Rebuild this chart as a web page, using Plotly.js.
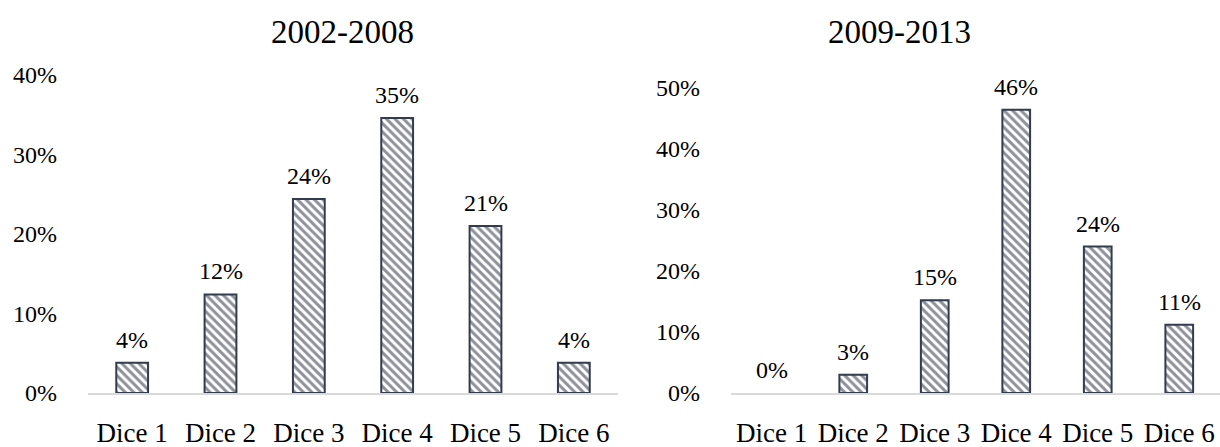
<!DOCTYPE html>
<html>
<head>
<meta charset="utf-8">
<script src="https://cdn.plot.ly/plotly-3.0.1.min.js"></script>
<style>
  html, body { margin: 0; padding: 0; background: #ffffff; }
  #chart { width: 1220px; height: 447px; }
</style>
</head>
<body>
<div id="chart"></div>
<script>
// Dice category labels shared by both periods
const categories = ['Dice 1', 'Dice 2', 'Dice 3', 'Dice 4', 'Dice 5', 'Dice 6'];

// Share of outcomes per dice, 2002-2008
const share2002to2008 = [0.038, 0.124, 0.244, 0.346, 0.21, 0.038];

// Share of outcomes per dice, 2009-2013
const share2009to2013 = [0.0, 0.03, 0.152, 0.464, 0.24, 0.112];

// Panel titles
const panelTitles = ['2002-2008', '2009-2013'];

const serif = 'Liberation Serif';
const ink = '#000000';
const barEdge = '#343b4d';
const hatch = '#1c2335';

function barTrace(values, xa, ya, w) {
  return {
    type: 'bar',
    x: categories,
    y: values,
    xaxis: xa,
    yaxis: ya,
    width: w,
    hoverinfo: 'skip',
    marker: {
      color: '#ffffff',
      // no outline on empty bars
      line: { color: barEdge, width: values.map(v => (v > 0 ? 2 : 0)) },
      pattern: { shape: '\\', fgcolor: hatch, bgcolor: '#ffffff', size: 6, solidity: 0.5, fillmode: 'overlay' }
    },
    showlegend: false
  };
}

function valueLabels(values, xa, ya) {
  return values.map((v, i) => ({
    x: categories[i],
    y: v,
    xref: xa,
    yref: ya,
    text: Math.round(v * 100) + '%',
    showarrow: false,
    yanchor: 'bottom',
    yshift: 8,
    font: { family: serif, size: 24, color: ink }
  }));
}

const data = [
  barTrace(share2002to2008, 'x', 'y', 0.36),
  barTrace(share2009to2013, 'x2', 'y2', 0.34)
];

const xCommon = {
  type: 'category',
  showgrid: false,
  zeroline: false,
  showline: true,
  linecolor: '#d9d9d9',
  linewidth: 2,
  ticks: '',
  ticklabelstandoff: 15,
  tickfont: { family: serif, size: 27, color: ink },
  fixedrange: true
};

const yCommon = {
  showgrid: false,
  zeroline: false,
  showline: false,
  ticks: '',
  tickformat: '.0%',
  dtick: 0.1,
  tick0: 0,
  ticklabelstandoff: 30,
  tickfont: { family: serif, size: 24, color: ink },
  fixedrange: true
};

const layout = {
  width: 1220,
  height: 447,
  margin: { l: 88, r: 0, t: 75, b: 54 },
  paper_bgcolor: '#ffffff',
  plot_bgcolor: '#ffffff',
  font: { family: serif, color: ink },
  xaxis: Object.assign({}, xCommon, { domain: [0, 0.4682], anchor: 'y' }),
  yaxis: Object.assign({}, yCommon, { range: [0, 0.40], anchor: 'x', domain: [0, 1] }),
  xaxis2: Object.assign({}, xCommon, { domain: [0.568, 1], anchor: 'y2' }),
  yaxis2: Object.assign({}, yCommon, { range: [0, 0.521], anchor: 'x2', domain: [0, 1] }),
  annotations: [
    ...valueLabels(share2002to2008, 'x', 'y'),
    ...valueLabels(share2009to2013, 'x2', 'y2'),
    {
      text: panelTitles[0], xref: 'paper', yref: 'paper',
      x: (342 - 88) / 1132, y: 1, yshift: 43, xanchor: 'center', yanchor: 'middle',
      showarrow: false, font: { family: serif, size: 33, color: ink }
    },
    {
      text: panelTitles[1], xref: 'paper', yref: 'paper',
      x: (899 - 88) / 1132, y: 1, yshift: 43, xanchor: 'center', yanchor: 'middle',
      showarrow: false, font: { family: serif, size: 33, color: ink }
    }
  ]
};

Plotly.newPlot('chart', data, layout, { staticPlot: true, displayModeBar: false });
</script>
</body>
</html>
